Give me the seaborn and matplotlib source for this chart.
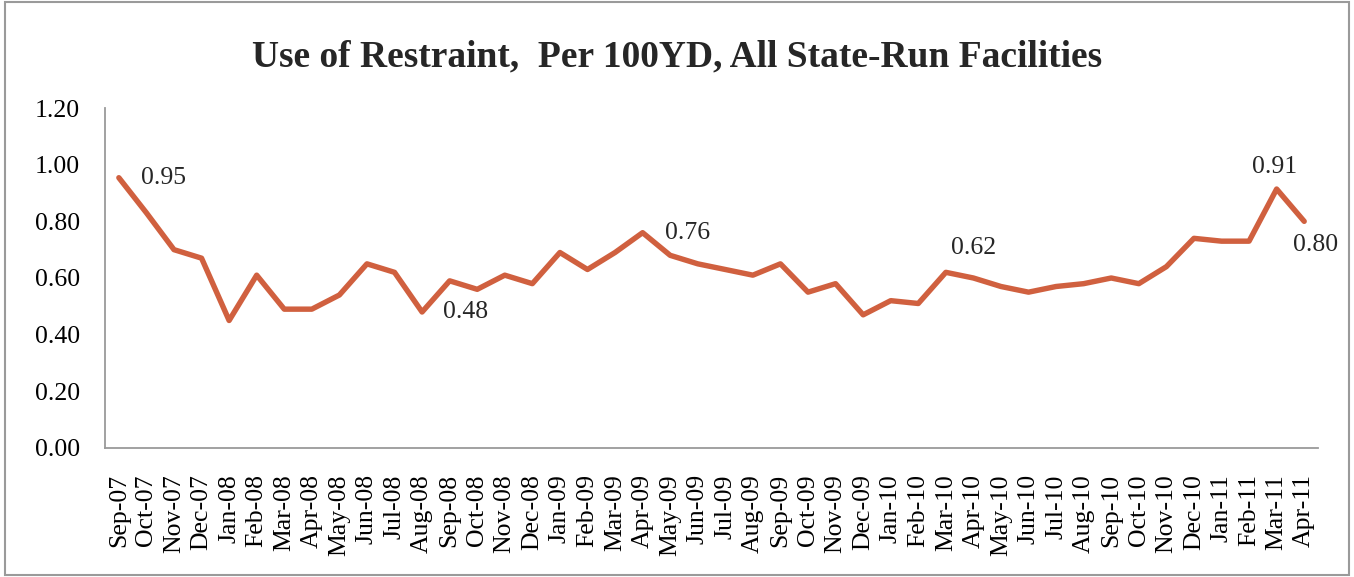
import matplotlib
matplotlib.use("Agg")
import matplotlib.pyplot as plt
import seaborn as sns
import pandas as pd
from matplotlib.patches import Rectangle

months = [
    "Sep-07", "Oct-07", "Nov-07", "Dec-07",
    "Jan-08", "Feb-08", "Mar-08", "Apr-08", "May-08", "Jun-08",
    "Jul-08", "Aug-08", "Sep-08", "Oct-08", "Nov-08", "Dec-08",
    "Jan-09", "Feb-09", "Mar-09", "Apr-09", "May-09", "Jun-09",
    "Jul-09", "Aug-09", "Sep-09", "Oct-09", "Nov-09", "Dec-09",
    "Jan-10", "Feb-10", "Mar-10", "Apr-10", "May-10", "Jun-10",
    "Jul-10", "Aug-10", "Sep-10", "Oct-10", "Nov-10", "Dec-10",
    "Jan-11", "Feb-11", "Mar-11", "Apr-11",
]
restraint = [
    0.954, 0.83, 0.70, 0.67,
    0.45, 0.61, 0.49, 0.49, 0.54, 0.65,
    0.62, 0.48, 0.59, 0.56, 0.61, 0.58,
    0.69, 0.63, 0.69, 0.76, 0.68, 0.65,
    0.63, 0.61, 0.65, 0.55, 0.58, 0.47,
    0.52, 0.51, 0.62, 0.60, 0.57, 0.55,
    0.57, 0.58, 0.60, 0.58, 0.64, 0.74,
    0.73, 0.73, 0.914, 0.80,
]
# labelled points: month -> (dx, dy, ha) offset in pixels
labels = {
    "Sep-07": (22, 0, "left"),
    "Aug-08": (21, 0, "left"),
    "Apr-09": (22, 0, "left"),
    "Mar-10": (5, 24, "left"),
    "Mar-11": (-2, 22, "center"),
    "Apr-11": (11, -24, "center"),
}

df = pd.DataFrame({"idx": range(len(months)), "month": months, "value": restraint})

sns.set_style("white")
plt.rcParams["font.family"] = ["Liberation Serif", "DejaVu Serif"]

fig = plt.figure(figsize=(13.54, 5.77), dpi=100)
ax = fig.add_axes([0.0776, 0.2236, 0.8958, 0.5892])

sns.lineplot(data=df, x="idx", y="value", color="#D0603F", linewidth=3.9,
             ax=ax, legend=False)
ax.lines[0].set_solid_capstyle("round")

ax.set_xlim(-0.5, len(months) - 0.5)
ax.set_ylim(0, 1.2)
ax.set_yticks([0, 0.2, 0.4, 0.6, 0.8, 1.0, 1.2])
ax.set_yticklabels([f"{v:.2f}" for v in [0, 0.2, 0.4, 0.6, 0.8, 1.0, 1.2]])
ax.set_xticks(df["idx"])
ax.set_xticklabels(months, rotation=90)
ax.tick_params(axis="both", length=0, labelsize=18.5, colors="black")
ax.tick_params(axis="y", pad=18)
ax.tick_params(axis="x", pad=19)
ax.set_xlabel("")
ax.set_ylabel("")

sns.despine(ax=ax)
for side in ["left", "bottom"]:
    ax.spines[side].set_color("#9a9a9a")
    ax.spines[side].set_linewidth(1.3)

for m, (dx, dy, ha) in labels.items():
    i = months.index(m)
    ax.annotate(f"{restraint[i]:.2f}", (i, restraint[i]), xytext=(dx, dy),
                textcoords="offset pixels", ha=ha, va="center", fontsize=18.5)

fig.text(0.5, 0.902, "Use of Restraint,  Per 100YD, All State-Run Facilities",
         ha="center", va="center", fontsize=27, fontweight="bold")

fig.patches.append(Rectangle((0.004, 0.003), 0.992, 0.994, transform=fig.transFigure,
                             fill=False, edgecolor="#9a9a9a", linewidth=1.5))

fig.savefig("out.png", dpi=100)
